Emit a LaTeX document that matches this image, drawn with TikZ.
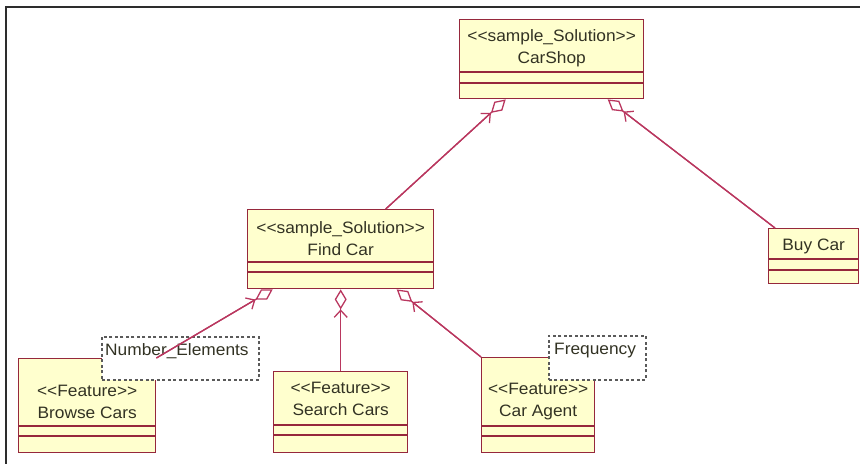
\documentclass[tikz,border=0pt]{standalone}
\usepackage{fontspec}
\setmainfont{Liberation Sans}[FakeStretch=1.05]
\usetikzlibrary{arrows.meta,calc}

\definecolor{classfill}{RGB}{255,255,206}
\definecolor{classedge}{RGB}{150,40,60}
\definecolor{linkcol}{RGB}{185,55,95}
\definecolor{textcol}{RGB}{50,50,35}
\definecolor{notedash}{RGB}{90,90,90}
\definecolor{framecol}{RGB}{45,45,45}

\tikzset{
  classbox/.style={draw=classedge, fill=classfill, line width=1.4pt, inner sep=0pt, anchor=north west},
  classtext/.style={text=textcol, align=center, font=\fontsize{16.5}{22}\selectfont, inner sep=0pt},
  compline/.style={draw=classedge, line width=1.4pt},
  notebox/.style={draw=notedash, fill=white, dash pattern=on 3pt off 2.5pt, line width=1.5pt, inner sep=0pt, anchor=north west},
  notetext/.style={text=textcol, font=\fontsize{16.5}{18}\selectfont, inner sep=0pt, anchor=west},
  aggr/.style={draw=linkcol, line width=1.3pt, -{Diamond[open, length=20pt, width=12pt]}},
  navi/.style={draw=linkcol, line width=1.3pt, -{Straight Barb[length=7pt, width=13pt]}, shorten >=20pt},
}

\begin{document}
\begin{tikzpicture}[x=1pt, y=-1pt]
  \useasboundingbox (0,0) rectangle (860,464);

  % window frame
  \draw[framecol, line width=1.8pt] (860,7) -- (6,7) -- (6,464);

  % CarShop
  \node[classbox, minimum width=184pt, minimum height=79pt] (carshop) at (459,19) {};
  \node[classtext] (carshop-t) at ($(carshop.north)+(0,29)$) {<{}<sample\_Solution>{}>\\CarShop};
  \draw[compline] ($(carshop.north west)+(0,53)$) -- ($(carshop.north east)+(0,53)$);
  \draw[compline] ($(carshop.north west)+(0,64)$) -- ($(carshop.north east)+(0,64)$);

  % Find Car
  \node[classbox, minimum width=186pt, minimum height=79pt] (findcar) at (247,209) {};
  \node[classtext] (findcar-t) at ($(findcar.north)+(0,29.5)$) {<{}<sample\_Solution>{}>\\Find Car};
  \draw[compline] ($(findcar.north west)+(0,53)$) -- ($(findcar.north east)+(0,53)$);
  \draw[compline] ($(findcar.north west)+(0,63)$) -- ($(findcar.north east)+(0,63)$);

  % Buy Car
  \node[classbox, minimum width=90pt, minimum height=55pt] (buycar) at (768,228) {};
  \node[classtext] (buycar-t) at ($(buycar.north)+(0,18)$) {Buy Car};
  \draw[compline] ($(buycar.north west)+(0,31)$) -- ($(buycar.north east)+(0,31)$);
  \draw[compline] ($(buycar.north west)+(0,42)$) -- ($(buycar.north east)+(0,42)$);

  % Browse Cars
  \node[classbox, minimum width=137pt, minimum height=94pt] (browse) at (18,358) {};
  \node[classtext] (browse-t) at ($(browse.north)+(0,44)$) {<{}<Feature>{}>\\Browse Cars};
  \draw[compline] ($(browse.north west)+(0,68)$) -- ($(browse.north east)+(0,68)$);
  \draw[compline] ($(browse.north west)+(0,78)$) -- ($(browse.north east)+(0,78)$);

  % Search Cars
  \node[classbox, minimum width=134pt, minimum height=81pt] (search) at (273,371) {};
  \node[classtext] (search-t) at ($(search.north)+(0,28)$) {<{}<Feature>{}>\\Search Cars};
  \draw[compline] ($(search.north west)+(0,54)$) -- ($(search.north east)+(0,54)$);
  \draw[compline] ($(search.north west)+(0,64)$) -- ($(search.north east)+(0,64)$);

  % Car Agent
  \node[classbox, minimum width=113pt, minimum height=95pt] (caragent) at (481,357) {};
  \node[classtext] (caragent-t) at ($(caragent.north)+(0,45)$) {<{}<Feature>{}>\\Car Agent};
  \draw[compline] ($(caragent.north west)+(0,69)$) -- ($(caragent.north east)+(0,69)$);
  \draw[compline] ($(caragent.north west)+(0,79)$) -- ($(caragent.north east)+(0,79)$);

  % notes
  \node[notebox, minimum width=157pt, minimum height=43pt] (numel) at (101,336) {};
  \node[notetext] (numel-t) at ($(numel.north west)+(4,15)$) {Number\_Elements};
  \node[notebox, minimum width=97pt, minimum height=44pt] (freq) at (548,335) {};
  \node[notetext] (freq-t) at ($(freq.north west)+(6,16)$) {Frequency};

  % aggregations
  \draw[aggr] ([xshift=45pt]findcar.north) -- ([xshift=-46pt]carshop.south);
  \draw[navi] ([xshift=45pt]findcar.north) -- ([xshift=-46pt]carshop.south);

  \draw[aggr] ([xshift=7pt]buycar.north west) -- ([xshift=56pt]carshop.south);
  \draw[navi] ([xshift=7pt]buycar.north west) -- ([xshift=56pt]carshop.south);

  \draw[aggr] (browse.north east) -- ([xshift=-68pt]findcar.south);
  \draw[navi] (browse.north east) -- ([xshift=-68pt]findcar.south);

  \draw[aggr] (search.north) -- (findcar.south);
  \draw[navi] (search.north) -- (findcar.south);

  \draw[aggr] (caragent.north west) -- ([xshift=56pt]findcar.south);
  \draw[navi] (caragent.north west) -- ([xshift=56pt]findcar.south);
\end{tikzpicture}
\end{document}
